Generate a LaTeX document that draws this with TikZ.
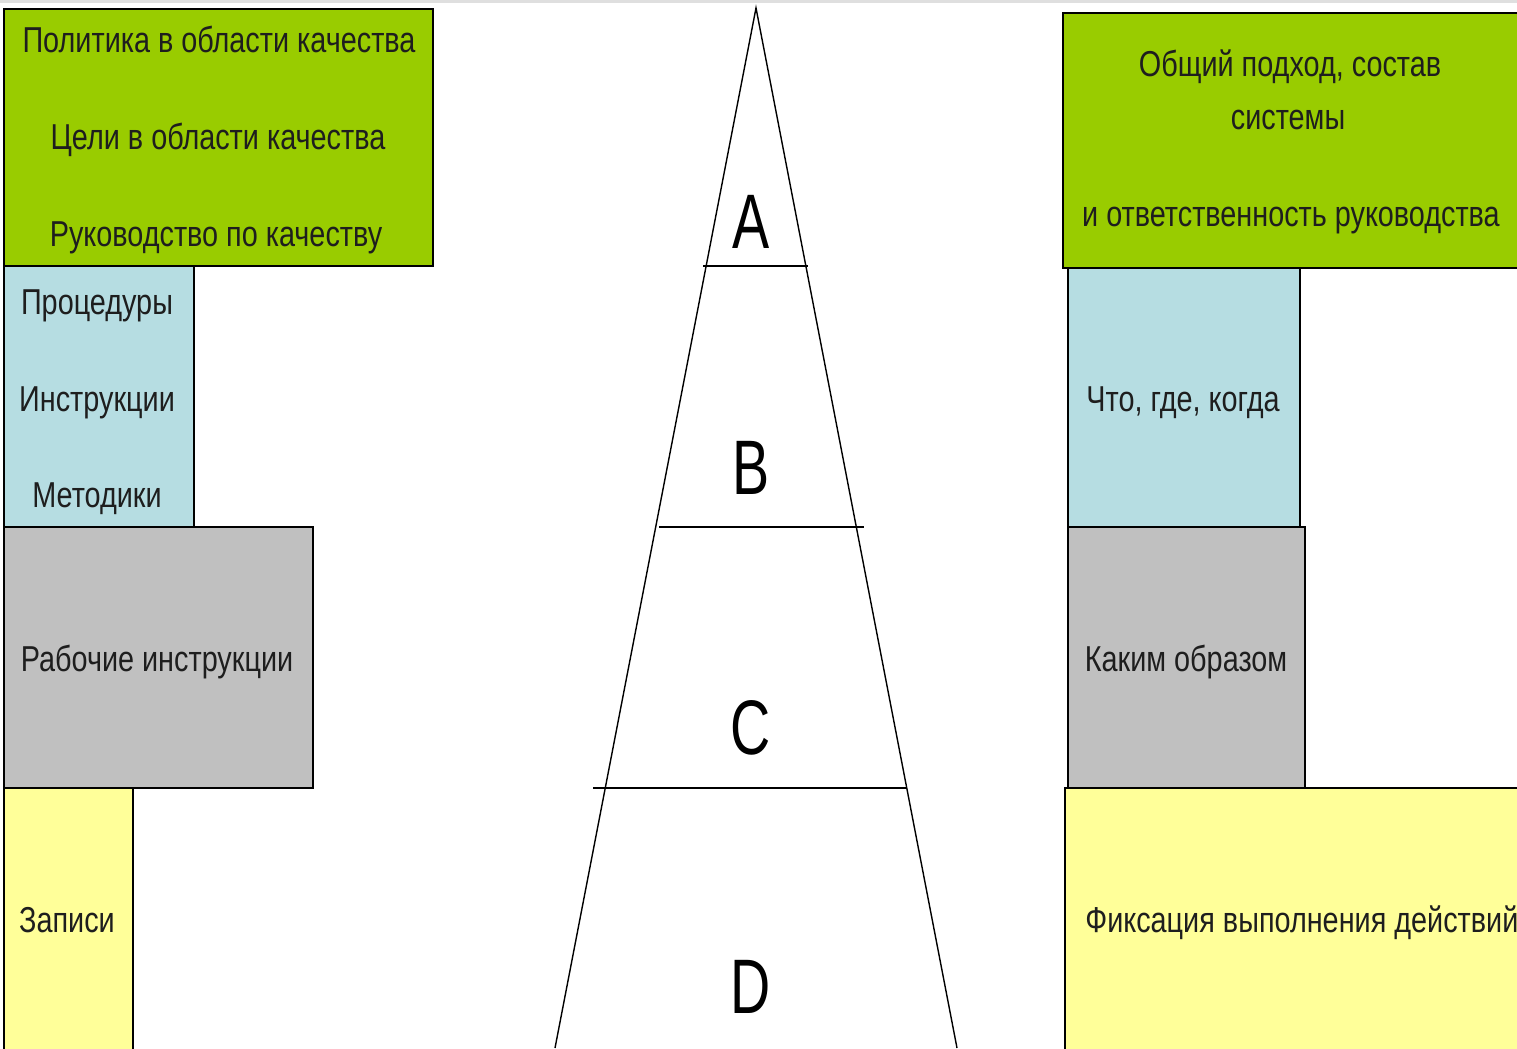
\documentclass[tikz,border=0pt]{standalone}
\usepackage{fontspec}
\setmainfont{Liberation Sans}[FakeStretch=0.8]
\newfontfamily\levelfont{Liberation Sans}[FakeStretch=0.72]

\definecolor{docgreen}{HTML}{99CC00}
\definecolor{docblue}{HTML}{B6DDE2}
\definecolor{docgray}{HTML}{C0C0C0}
\definecolor{docyellow}{HTML}{FFFF99}
\definecolor{inkgray}{HTML}{1E1E1E}

\def\picW{1517}
\def\picH{1048}

\begin{document}
\begin{tikzpicture}[x=0.02cm, y=-0.02cm,
    doc/.style={draw=black, line width=1.1pt},
    label/.style={text=inkgray, inner sep=0pt, text height=1.38ex, text depth=0pt,
      font=\fontsize{20.5}{24}\selectfont},
    level/.style={text=black, inner sep=0pt, text height=1.38ex, text depth=0pt,
      font=\levelfont\fontsize{44}{48}\selectfont}]
  \useasboundingbox (0,0) rectangle (\picW,\picH);
  \fill[white] (0,0) rectangle (\picW,\picH);
  \draw[gray!25, line width=1.2pt] (0,1.5) -- (\picW,1.5);

  % left column
  \draw[doc, fill=docgreen] (4,9) rectangle (433,266);
  \draw[doc, fill=docblue] (4,266) rectangle (194,527);
  \draw[doc, fill=docgray] (4,527) rectangle (313,788);
  \draw[doc, fill=docyellow] (4,788) rectangle (133,1055);
  \node[label] (policy) at (219,46) {Политика в области качества};
  \node[label] (goals) at (218,143) {Цели в области качества};
  \node[label] (manual) at (216,240) {Руководство по качеству};
  \node[label] (procs) at (97,308) {Процедуры};
  \node[label] (instr) at (97,405) {Инструкции};
  \node[label] (methods) at (97,501) {Методики};
  \node[label] (workinstr) at (157,665) {Рабочие инструкции};
  \node[label] (records) at (67,926) {Записи};

  % pyramid
  \coordinate (apex) at (756,8);
  \coordinate (baseL) at (555,1048);
  \coordinate (baseR) at (957,1048);
  \draw[line width=0.8pt] (baseL) -- (apex) -- (baseR);
  \foreach \y/\xa/\xb in {266/703/808, 527/659/864, 788/593/906} {
      \draw[line width=0.8pt] (\xa,\y) -- (\xb,\y);
  }
  \foreach \name/\y in {A/242, B/488, C/748, D/1007} {
      \node[level] (lvl\name) at (751,\y) {\name};
  }

  % right column
  \draw[doc, fill=docgreen] (1063,13) rectangle (1530,268);
  \draw[doc, fill=docblue] (1068,268) rectangle (1300,527);
  \draw[doc, fill=docgray] (1068,527) rectangle (1305,788);
  \draw[doc, fill=docyellow] (1065,788) rectangle (1530,1055);
  \node[label] (approach) at (1290,70) {Общий подход, состав};
  \node[label] (system) at (1288,123) {системы};
  \node[label] (duty) at (1291,220) {и ответственность руководства};
  \node[label] (what) at (1183,405) {Что, где, когда};
  \node[label] (how) at (1186,665) {Каким образом};
  \node[label, anchor=west] (fixing) at (1085,926) {Фиксация выполнения действий};
\end{tikzpicture}
\end{document}
